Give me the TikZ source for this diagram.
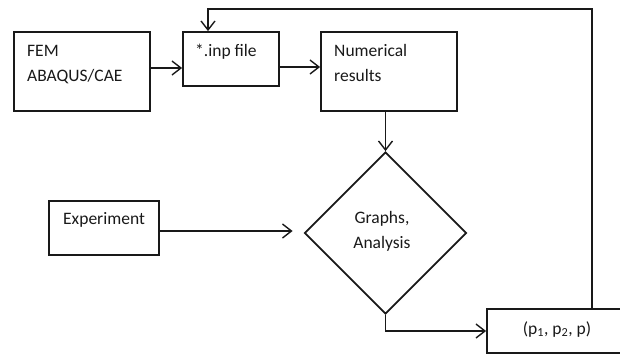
\documentclass[tikz,border=0pt]{standalone}
\usepackage{fontspec}
\setmainfont{Carlito}
\usetikzlibrary{arrows.meta,shapes.geometric,calc}
\begin{document}
\begin{tikzpicture}[x=1pt,y=-1pt,
  boxed/.style={draw=black!90, line width=1.8pt, inner sep=0pt, text=black},
  lbl/.style={inner sep=0pt, font=\fontsize{17.5}{26}\selectfont, text=black!90},
  conn/.style={draw=black!90, line width=1.4pt},
  arr/.style={conn, -{Straight Barb[length=9pt,width=14pt,line width=1.4pt]}}]
\useasboundingbox (0,0) rectangle (620,356);
% boxes
\node[boxed, minimum width=136pt, minimum height=79pt] (fem) at (82,71.5) {};
\node[boxed, minimum width=96pt, minimum height=54pt] (inp) at (231,59) {};
\node[boxed, minimum width=136pt, minimum height=79pt] (num) at (389,71.5) {};
\node[boxed, minimum width=110pt, minimum height=54pt] (exp) at (104,228) {};
\node[boxed, shape=diamond, minimum width=162pt, minimum height=162pt] (g) at (385.5,233) {};
\node[boxed, minimum width=139pt, minimum height=44pt] (p) at (556.5,331) {};
% texts
\node[lbl, anchor=base west] (t1) at (27,56) {FEM};
\node[lbl, anchor=base west] (t2) at (27,81) {ABAQUS/CAE};
\node[lbl, anchor=base west] (t3) at (195,56) {*.inp file};
\node[lbl, anchor=base west] (t4) at (334,56) {Numerical};
\node[lbl, anchor=base west] (t5) at (334,81) {results};
\node[lbl, anchor=base west] (t6) at (63,224) {Experiment};
\node[lbl, anchor=base] (t7) at (382,223) {Graphs,};
\node[lbl, anchor=base] (t8) at (382,248) {Analysis};
\node[lbl, anchor=base] (t9) at (557,334) {(p\textsubscript{1}, p\textsubscript{2}, p)};
% connectors
\coordinate (tl) at (208,9);
\coordinate (tr) at (592,9);
\draw[arr] (fem.east |- 0,68) -- (inp.west |- 0,68);
\draw[arr] (inp.east |- 0,67) -- (num.west |- 0,67);
\draw[arr] (num.south -| g.north) -- (g.north);
\draw[arr] (exp.east |- 0,231) -- ([xshift=-11pt]g.west |- 0,231);
\draw[arr] (g.south) |- (p.west);
\draw[arr] (p.north -| tr) -- (tr) -- (tl) -- (inp.north -| tl);
\end{tikzpicture}
\end{document}
